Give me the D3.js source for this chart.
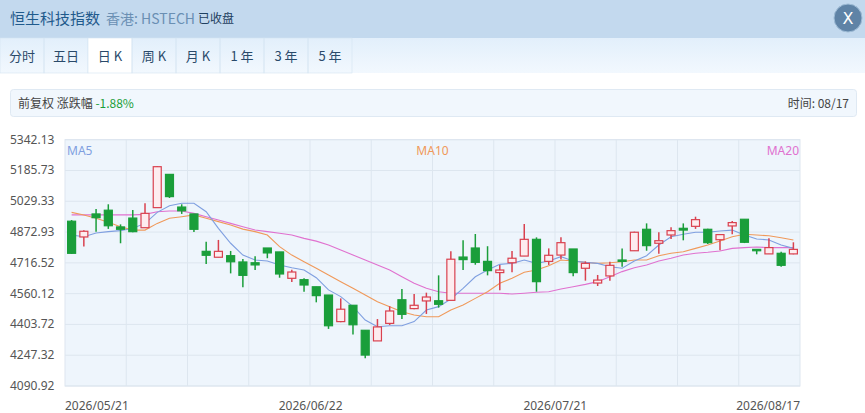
<!DOCTYPE html>
<html>
<head>
<meta charset="utf-8">
<script src="https://cdn.jsdelivr.net/npm/d3@7"></script>
<style>
body { margin: 0; background: #fff; font-family: "Noto Sans CJK SC", "Noto Sans", sans-serif; }
</style>
</head>
<body>
<svg id="chartSVG"></svg>
<script>
var width = 865, height = 413
var margin = { top: 139.7, left: 65, right: 65, bottom: 27 }

var tabs = ['分时', '五日', '日K', '周K', '月K', '1年', '3年', '5年']
var yTicks = [4090.92, 4247.32, 4403.72, 4560.12, 4716.52, 4872.93, 5029.33, 5185.73, 5342.13]
var dateLabels = [[0, '2026/05/21'], [20, '2026/06/22'], [40, '2026/07/21'], [59, '2026/08/17']]

var opens = [4928, 4848, 4965, 4984, 4899, 4944, 4895, 4997, 5166, 5000, 4965, 4775, 4745, 4753, 4721,
    4717, 4792, 4772, 4638, 4631, 4595, 4553, 4418, 4501, 4374, 4320, 4409, 4529, 4484, 4523,
    4524, 4526, 4746, 4792, 4724, 4667, 4717, 4751, 4836, 4724, 4756, 4787, 4689, 4614, 4650,
    4731, 4778, 4887, 4816, 4858, 4892, 4902, 4887, 4834, 4904, 4938, 4785, 4762, 4765, 4762]
var highs = [4934, 4882, 4990, 5014, 4912, 4985, 5019, 5209, 5166, 5014, 4965, 4824, 4833, 4777, 4736,
    4750, 4792, 4772, 4682, 4638, 4595, 4553, 4536, 4501, 4374, 4431, 4496, 4584, 4558, 4565,
    4653, 4775, 4831, 4863, 4801, 4706, 4777, 4914, 4846, 4790, 4846, 4787, 4724, 4655, 4722,
    4790, 4875, 4917, 4872, 4897, 4917, 4951, 4890, 4860, 4929, 4938, 4785, 4841, 4773, 4821]
var lows = [4762, 4799, 4875, 4889, 4816, 4872, 4895, 4997, 5046, 4965, 4873, 4711, 4745, 4663, 4592,
    4680, 4740, 4641, 4619, 4570, 4516, 4381, 4415, 4352, 4232, 4320, 4401, 4431, 4481, 4457,
    4489, 4526, 4680, 4707, 4653, 4577, 4669, 4751, 4570, 4706, 4735, 4648, 4626, 4599, 4626,
    4697, 4778, 4778, 4763, 4838, 4831, 4889, 4812, 4780, 4862, 4817, 4760, 4762, 4697, 4760]
var closes = [4765, 4877, 4946, 4905, 4887, 4875, 4968, 5205, 5053, 4981, 4887, 4755, 4775, 4722, 4653,
    4706, 4767, 4660, 4670, 4604, 4550, 4397, 4481, 4402, 4248, 4391, 4472, 4455, 4501, 4543,
    4506, 4735, 4733, 4719, 4677, 4680, 4740, 4836, 4621, 4755, 4819, 4667, 4714, 4629, 4704,
    4724, 4872, 4804, 4829, 4880, 4883, 4936, 4819, 4860, 4921, 4821, 4778, 4794, 4704, 4785]

var ma5 = [4858, 4849, 4868, 4875, 4880, 4892, 4917, 4973, 5007, 5019, 5019, 4976, 4892, 4816, 4756,
    4731, 4726, 4706, 4692, 4680, 4641, 4579, 4545, 4494, 4426, 4392, 4397, 4397, 4418, 4477,
    4494, 4533, 4587, 4646, 4680, 4709, 4714, 4731, 4714, 4726, 4748, 4726, 4719, 4714, 4697,
    4689, 4726, 4753, 4807, 4849, 4862, 4872, 4872, 4878, 4883, 4858, 4838, 4833, 4807, 4790]
var ma10 = [4973, 4960, 4943, 4923, 4900, 4883, 4883, 4917, 4943, 4951, 4960, 4943, 4926, 4909, 4888,
    4875, 4858, 4799, 4756, 4722, 4689, 4655, 4621, 4587, 4553, 4519, 4494, 4468, 4452, 4443,
    4443, 4477, 4502, 4536, 4570, 4613, 4638, 4669, 4680, 4702, 4731, 4726, 4719, 4714, 4717,
    4722, 4731, 4731, 4753, 4765, 4773, 4790, 4807, 4828, 4849, 4862, 4858, 4854, 4844, 4833]
var ma20 = [4960, 4960, 4960, 4960, 4960, 4960, 4963, 4976, 4980, 4980, 4968, 4951, 4934, 4917, 4900,
    4883, 4875, 4867, 4858, 4841, 4827, 4807, 4782, 4756, 4731, 4706, 4680, 4646, 4613, 4587,
    4570, 4562, 4562, 4562, 4562, 4562, 4558, 4562, 4567, 4570, 4584, 4595, 4607, 4621, 4646,
    4672, 4692, 4706, 4726, 4740, 4756, 4765, 4770, 4777, 4790, 4794, 4797, 4794, 4794, 4794]

var upColor = '#d9414f', downColor = '#1a9e3a'
var maColors = { MA5: '#7f9fe0', MA10: '#f0995a', MA20: '#e071cf' }

var svg = d3.select('#chartSVG').attr('width', width).attr('height', height)

// header
svg.append('rect').attr('x', 0).attr('y', 0).attr('width', width).attr('height', 38).attr('fill', '#c3d9ee')
svg.append('text').attr('x', 10).attr('y', 24).attr('font-size', '15px').attr('fill', '#1f5a8c').text('恒生科技指数')
svg.append('text').attr('x', 106).attr('y', 24).attr('font-size', '14px').attr('fill', '#6a8fb3').text('香港: HSTECH')
svg.append('text').attr('x', 198).attr('y', 23).attr('font-size', '12px').attr('fill', '#1f4060').text('已收盘')
svg.append('circle').attr('cx', 848).attr('cy', 18).attr('r', 14).attr('fill', '#5f83a6').attr('stroke', '#9fbcd6')
svg.append('text').attr('x', 848).attr('y', 24).attr('text-anchor', 'middle').attr('font-size', '16px')
    .attr('font-family', 'DejaVu Sans').attr('fill', '#fff').text('X')

// tab bar
var tabGrad = svg.append('defs').append('linearGradient').attr('id', 'tabGrad').attr('x1', 0).attr('x2', 0).attr('y1', 0).attr('y2', 1)
tabGrad.append('stop').attr('offset', '0%').attr('stop-color', '#e2effb')
tabGrad.append('stop').attr('offset', '100%').attr('stop-color', '#f2f8fe')
svg.append('rect').attr('x', 0).attr('y', 38).attr('width', width).attr('height', 35).attr('fill', 'url(#tabGrad)')
var tabX = d3.scaleBand().domain(tabs).range([0, 352])
var tabG = svg.selectAll('.tab').data(tabs).enter().append('g')
tabG.append('rect')
    .attr('x', function (d) { return tabX(d) }).attr('y', 38)
    .attr('width', tabX.bandwidth()).attr('height', 35)
    .attr('fill', function (d) { return d === '日K' ? '#fff' : 'none' })
    .attr('stroke', '#d3e3f2').attr('stroke-width', 0.6)
tabG.append('text')
    .attr('x', function (d) { return tabX(d) + tabX.bandwidth() / 2 }).attr('y', 61)
    .attr('text-anchor', 'middle').attr('font-size', '13px').attr('fill', '#2a4a6a')
    .text(function (d) { return d.replace(/(\d)年/, '$1 年').replace('K', ' K') })

// info bar
svg.append('rect').attr('x', 10.5).attr('y', 89.5).attr('width', 846).attr('height', 27).attr('rx', 3)
    .attr('fill', '#f1f7fd').attr('stroke', '#dfe9f3')
var info = svg.append('text').attr('x', 18).attr('y', 108).attr('font-size', '12px').attr('fill', '#444')
info.append('tspan').text('前复权 涨跌幅 ')
info.append('tspan').attr('fill', '#1a9e3a').text('-1.88%')
svg.append('text').attr('x', 849).attr('y', 108).attr('text-anchor', 'end').attr('font-size', '12px').attr('fill', '#444').text('时间: 08/17')

// plot
var innerW = width - margin.left - margin.right
var innerH = height - margin.top - margin.bottom
var layer = svg.append('g').attr('transform', 'translate(' + margin.left + ', ' + margin.top + ')')
var xScale = d3.scaleBand().domain(d3.range(closes.length)).range([0, innerW]).padding(0.08)
var yScale = d3.scaleLinear().domain([yTicks[0], yTicks[yTicks.length - 1]]).range([innerH, 0])
var cx = function (i) { return xScale(i) + xScale.bandwidth() / 2 }

layer.append('rect').attr('width', innerW).attr('height', innerH).attr('fill', '#eef5fc').attr('stroke', '#dde6ef')
layer.selectAll('.hgrid').data(yTicks).enter().append('line')
    .attr('x1', 0).attr('x2', innerW)
    .attr('y1', function (d) { return yScale(d) }).attr('y2', function (d) { return yScale(d) })
    .attr('stroke', '#dde6ef')
layer.selectAll('.vgrid').data(d3.range(1, 12)).enter().append('line')
    .attr('x1', function (d) { return d * innerW / 12 }).attr('x2', function (d) { return d * innerW / 12 })
    .attr('y1', 0).attr('y2', innerH)
    .attr('stroke', '#dde6ef')

svg.selectAll('.ytick').data(yTicks).enter().append('text')
    .attr('x', 10).attr('y', function (d) { return margin.top + yScale(d) + 4 })
    .attr('font-size', '12px').attr('fill', '#555').attr('font-family', 'Noto Sans')
    .text(function (d) { return d.toFixed(2) })

svg.selectAll('.xtick').data(dateLabels).enter().append('text')
    .attr('x', function (d) {
        if (d[0] === 0) return margin.left
        if (d[0] === closes.length - 1) return margin.left + innerW
        return margin.left + xScale(d[0])
    })
    .attr('y', 410)
    .attr('text-anchor', function (d) { return d[0] === 0 ? 'start' : (d[0] === closes.length - 1 ? 'end' : 'middle') })
    .attr('font-size', '12px').attr('fill', '#555').attr('font-family', 'Noto Sans')
    .text(function (d) { return d[1] })

// moving averages
var maSeries = [['MA20', ma20], ['MA10', ma10], ['MA5', ma5]]
var line = d3.line().x(function (d, i) { return cx(i) }).y(function (d) { return yScale(d) })
maSeries.forEach(function (s) {
    layer.append('path').attr('d', line(s[1])).attr('fill', 'none')
        .attr('stroke', maColors[s[0]]).attr('stroke-width', 1.1)
})

// candles
var candles = layer.selectAll('.candle').data(d3.range(closes.length)).enter().append('g')
candles.append('line')
    .attr('x1', cx).attr('x2', cx)
    .attr('y1', function (i) { return yScale(highs[i]) }).attr('y2', function (i) { return yScale(lows[i]) })
    .attr('stroke', function (i) { return closes[i] >= opens[i] ? upColor : downColor }).attr('stroke-width', 1.5)
var bw = 8
candles.append('rect')
    .attr('x', function (i) { return cx(i) - bw / 2 })
    .attr('y', function (i) { return yScale(Math.max(opens[i], closes[i])) })
    .attr('width', bw)
    .attr('height', function (i) { return Math.max(1, Math.abs(yScale(opens[i]) - yScale(closes[i]))) })
    .attr('fill', function (i) { return closes[i] >= opens[i] ? '#fdecef' : downColor })
    .attr('stroke', function (i) { return closes[i] >= opens[i] ? upColor : downColor }).attr('stroke-width', 1.2)

// legend
layer.append('text').attr('x', 2).attr('y', 15).attr('font-size', '12px').attr('fill', maColors.MA5).attr('font-family', 'Noto Sans').text('MA5')
layer.append('text').attr('x', innerW / 2).attr('y', 15).attr('text-anchor', 'middle').attr('font-size', '12px').attr('fill', maColors.MA10).attr('font-family', 'Noto Sans').text('MA10')
layer.append('text').attr('x', innerW - 1).attr('y', 15).attr('text-anchor', 'end').attr('font-size', '12px').attr('fill', maColors.MA20).attr('font-family', 'Noto Sans').text('MA20')
</script>
</body>
</html>
